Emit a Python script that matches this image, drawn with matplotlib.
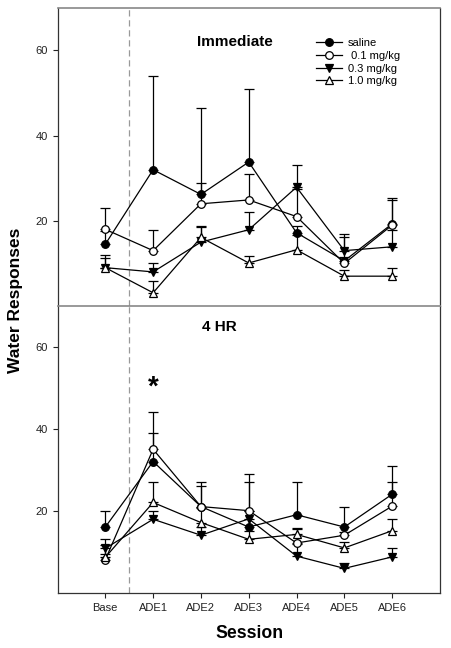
import matplotlib
matplotlib.use('Agg')
import matplotlib.pyplot as plt
from matplotlib.lines import Line2D
import numpy as np

plt.rcParams['font.family'] = ['Liberation Sans', 'DejaVu Sans']

# sessions
sessions = ['Base', 'ADE1', 'ADE2', 'ADE3', 'ADE4', 'ADE5', 'ADE6']

# Immediate panel: means and upper SEM
imm_saline = [14.5, 32.0, 26.2, 33.8, 17.2, 10.6, 19.3]
imm_saline_err = [3.0, 22.0, 20.2, 17.2, 1.7, 5.5, 6.0]
imm_01 = [18.0, 13.0, 24.0, 24.9, 21.0, 10.0, 19.0]
imm_01_err = [5.0, 4.9, 4.9, 6.0, 6.5, 1.4, 5.9]
imm_03 = [9.0, 8.0, 15.0, 17.9, 27.9, 13.0, 13.9]
imm_03_err = [3.0, 2.0, 3.5, 4.1, 5.1, 3.9, 4.0]
imm_10 = [9.0, 3.1, 16.1, 10.1, 13.2, 7.0, 7.0]
imm_10_err = [2.2, 2.8, 2.8, 1.7, 3.5, 1.5, 1.9]

# 4 HR panel
hr4_saline = [16.0, 32.0, 21.0, 16.0, 19.0, 16.0, 24.0]
hr4_saline_err = [4.0, 7.0, 6.0, 11.0, 8.0, 5.0, 7.0]
hr4_01 = [8.0, 35.0, 21.0, 20.0, 12.1, 14.0, 21.1]
hr4_01_err = [1.5, 9.0, 5.0, 9.0, 3.5, 0.8, 6.0]
hr4_03 = [10.8, 17.9, 14.0, 18.0, 8.9, 5.9, 8.7]
hr4_03_err = [2.2, 2.1, 2.0, 2.0, 3.0, 1.2, 2.1]
hr4_10 = [8.6, 22.0, 17.1, 13.0, 14.2, 10.9, 15.1]
hr4_10_err = [3.1, 5.0, 3.5, 2.0, 1.5, 1.5, 2.8]

labels = ['saline', ' 0.1 mg/kg', '0.3 mg/kg', '1.0 mg/kg']
markers = ['o', 'o', 'v', '^']
faces = ['black', 'white', 'black', 'white']

x = np.arange(len(sessions))

fig = plt.figure(figsize=(4.51, 6.48), dpi=100)
ax1 = fig.add_axes([0.1275, 0.5278, 0.848, 0.46])
ax2 = fig.add_axes([0.1275, 0.0856, 0.848, 0.4422])

panels = [
    (ax1, [imm_saline, imm_01, imm_03, imm_10],
     [imm_saline_err, imm_01_err, imm_03_err, imm_10_err]),
    (ax2, [hr4_saline, hr4_01, hr4_03, hr4_10],
     [hr4_saline_err, hr4_01_err, hr4_03_err, hr4_10_err]),
]

for ax, means, errs in panels:
    for i in range(4):
        m = np.array(means[i])
        e = np.array(errs[i])
        # one-sided (upper) error bars
        ax.errorbar(x, m, yerr=[np.zeros_like(e), e], fmt='none',
                    ecolor='black', elinewidth=0.9, capsize=3.5, capthick=0.9, zorder=2)
        ax.plot(x, m, color='black', linewidth=0.9, marker=markers[i],
                markerfacecolor=faces[i], markeredgecolor='black',
                markersize=5.5, markeredgewidth=0.9, zorder=3)
    ax.axvline(0.5, color='#999999', linestyle=(0, (5, 3)), linewidth=0.9, zorder=1)
    ax.set_xlim(-1, 7)
    ax.set_ylim(0, 70)
    ax.set_yticks([20, 40, 60])
    ax.tick_params(axis='y', direction='out', length=3.5, width=0.8,
                   labelsize=8, colors='#222222')
    for s in ['left', 'right', 'bottom']:
        ax.spines[s].set_color('#333333')
        ax.spines[s].set_linewidth(0.9)
    ax.spines['top'].set_color('#888888')
    ax.spines['top'].set_linewidth(1.2)

ax1.spines['bottom'].set_visible(False)
ax1.set_xticks([])
ax2.set_xticks(x)
ax2.set_xticklabels(sessions)
ax2.tick_params(axis='x', direction='out', length=3.5, width=0.8,
                labelsize=8, colors='#222222', pad=4)

ax1.text(2.71, 62, 'Immediate', fontsize=11, fontweight='bold', ha='center', va='center')
ax2.text(2.39, 64.8, '4 HR', fontsize=11, fontweight='bold', ha='center', va='center')
ax2.text(1, 50, '*', fontsize=20, fontweight='bold', ha='center', va='center')

handles = [Line2D([0], [0], color='black', linewidth=0.9, marker=markers[i],
                  markerfacecolor=faces[i], markeredgecolor='black',
                  markersize=5.5, markeredgewidth=0.9) for i in range(4)]
ax1.legend(handles, labels, loc='upper left', bbox_to_anchor=(0.655, 0.925),
           frameon=False, fontsize=8, handlelength=2.4, handletextpad=0.5,
           labelspacing=0.25, borderpad=0.2)

fig.text(0.034, 0.537, 'Water Responses', rotation=90, fontsize=12.5,
         fontweight='bold', ha='center', va='center')
fig.text(0.554, 0.023, 'Session', fontsize=12.7, fontweight='bold',
         ha='center', va='center')

fig.savefig('out.png', dpi=100, facecolor='white')
